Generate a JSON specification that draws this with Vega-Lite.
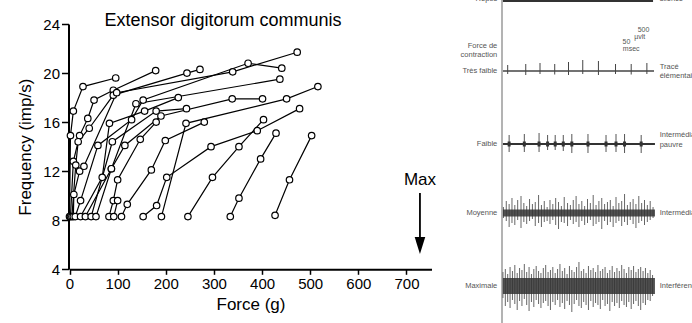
{
"$schema": "https://vega.github.io/schema/vega-lite/v6.json",
"width": 692, "height": 323,
"autosize": {"type": "none"},
"padding": 0,
"background": "white",
"config": {"view": {"stroke": null}, "font": "Liberation Sans", "axis": {"grid": false}},
"datasets": {
"units": [
{"u":"L1","f":0,"hz":8.3},{"u":"L1","f":2,"hz":14.9},{"u":"L1","f":8,"hz":16.9},{"u":"L1","f":28,"hz":18.9},{"u":"L1","f":96,"hz":19.6},
{"u":"L2","f":2,"hz":8.3},{"u":"L2","f":8,"hz":12.8},{"u":"L2","f":21,"hz":14.9},{"u":"L2","f":38,"hz":16.3},{"u":"L2","f":51,"hz":17.8},{"u":"L2","f":91,"hz":18.6},{"u":"L2","f":179,"hz":20.2},
{"u":"L3","f":5,"hz":8.3},{"u":"L3","f":13,"hz":12.5},{"u":"L3","f":18,"hz":14.4},{"u":"L3","f":41,"hz":15.5},{"u":"L3","f":91,"hz":18.2},{"u":"L3","f":244,"hz":20.0},{"u":"L3","f":271,"hz":20.3},
{"u":"L4","f":8,"hz":8.3},{"u":"L4","f":9,"hz":10.1},{"u":"L4","f":21,"hz":12.0},{"u":"L4","f":30,"hz":12.4},{"u":"L4","f":98,"hz":18.4},{"u":"L4","f":339,"hz":20.1},{"u":"L4","f":473,"hz":21.7},
{"u":"L5","f":12,"hz":8.3},{"u":"L5","f":23,"hz":9.6},{"u":"L5","f":59,"hz":14.1},{"u":"L5","f":129,"hz":16.2},{"u":"L5","f":153,"hz":17.8},{"u":"L5","f":371,"hz":20.8},{"u":"L5","f":441,"hz":20.4},
{"u":"L6","f":23,"hz":8.3},{"u":"L6","f":68,"hz":11.5},{"u":"L6","f":83,"hz":15.9},{"u":"L6","f":156,"hz":16.9},{"u":"L6","f":226,"hz":18.0},
{"u":"L7","f":33,"hz":8.3},{"u":"L7","f":87,"hz":12.2},{"u":"L7","f":138,"hz":17.5},{"u":"L7","f":437,"hz":19.5},
{"u":"L8","f":45,"hz":8.3},{"u":"L8","f":89,"hz":14.4},{"u":"L8","f":180,"hz":16.9},{"u":"L8","f":243,"hz":17.1},
{"u":"L9","f":55,"hz":8.3},{"u":"L9","f":87,"hz":12.2},{"u":"L9","f":115,"hz":14.1},{"u":"L9","f":190,"hz":16.5},{"u":"L9","f":338,"hz":17.9},{"u":"L9","f":401,"hz":17.9},
{"u":"L10","f":82,"hz":8.3},{"u":"L10","f":91,"hz":9.6},{"u":"L10","f":100,"hz":11.3},{"u":"L10","f":147,"hz":14.6},{"u":"L10","f":180,"hz":16.0},
{"u":"L17","f":92,"hz":8.3},{"u":"L17","f":100,"hz":9.6},
{"u":"L11","f":108,"hz":8.3},{"u":"L11","f":120,"hz":9.3},{"u":"L11","f":170,"hz":12.1},{"u":"L11","f":199,"hz":14.5},{"u":"L11","f":280,"hz":16.0},
{"u":"L12","f":153,"hz":8.3},{"u":"L12","f":181,"hz":9.2},{"u":"L12","f":202,"hz":11.5},{"u":"L12","f":294,"hz":14.0},{"u":"L12","f":390,"hz":15.3},{"u":"L12","f":478,"hz":17.1},
{"u":"L13","f":191,"hz":8.3},{"u":"L13","f":242,"hz":15.9},{"u":"L13","f":451,"hz":17.9},{"u":"L13","f":516,"hz":18.9},
{"u":"L14","f":246,"hz":8.3},{"u":"L14","f":297,"hz":11.5},{"u":"L14","f":352,"hz":14.0},{"u":"L14","f":403,"hz":16.2},
{"u":"L15","f":334,"hz":8.3},{"u":"L15","f":352,"hz":9.8},{"u":"L15","f":397,"hz":13.0},{"u":"L15","f":429,"hz":15.1},
{"u":"L16","f":427,"hz":8.4},{"u":"L16","f":457,"hz":11.3},{"u":"L16","f":503,"hz":14.9}
],
"emg": [
{"tr":"tf","t":12,"lo":-60,"hi":120},{"tr":"tf","t":50,"lo":-80,"hi":140},{"tr":"tf","t":80,"lo":-60,"hi":160},{"tr":"tf","t":111,"lo":-70,"hi":140},{"tr":"tf","t":140,"lo":-80,"hi":180},{"tr":"tf","t":170,"lo":-60,"hi":220},{"tr":"tf","t":203,"lo":-80,"hi":200},{"tr":"tf","t":239,"lo":-60,"hi":140},{"tr":"tf","t":272,"lo":-70,"hi":140},{"tr":"tf","t":305,"lo":-60,"hi":160},
{"tr":"fa","t":15,"lo":-160,"hi":180},{"tr":"fa","t":47,"lo":-160,"hi":200},{"tr":"fa","t":78,"lo":-160,"hi":220},{"tr":"fa","t":96,"lo":-120,"hi":180},{"tr":"fa","t":112,"lo":-120,"hi":180},{"tr":"fa","t":129,"lo":-140,"hi":180},{"tr":"fa","t":147,"lo":-180,"hi":200},{"tr":"fa","t":181,"lo":-180,"hi":200},{"tr":"fa","t":219,"lo":-160,"hi":180},{"tr":"fa","t":240,"lo":-160,"hi":200},{"tr":"fa","t":258,"lo":-180,"hi":200},{"tr":"fa","t":293,"lo":-180,"hi":180},
{"tr":"mo","t":3,"lo":-100,"hi":120},{"tr":"mo","t":9,"lo":-160,"hi":240},{"tr":"mo","t":15,"lo":-280,"hi":180},{"tr":"mo","t":21,"lo":-200,"hi":300},{"tr":"mo","t":27,"lo":-240,"hi":160},{"tr":"mo","t":33,"lo":-140,"hi":260},{"tr":"mo","t":40,"lo":-300,"hi":340},{"tr":"mo","t":46,"lo":-180,"hi":200},{"tr":"mo","t":52,"lo":-220,"hi":140},{"tr":"mo","t":58,"lo":-160,"hi":280},{"tr":"mo","t":64,"lo":-120,"hi":180},{"tr":"mo","t":70,"lo":-260,"hi":220},{"tr":"mo","t":77,"lo":-200,"hi":360},{"tr":"mo","t":83,"lo":-280,"hi":160},{"tr":"mo","t":89,"lo":-180,"hi":240},{"tr":"mo","t":95,"lo":-160,"hi":120},{"tr":"mo","t":101,"lo":-220,"hi":260},{"tr":"mo","t":107,"lo":-140,"hi":180},{"tr":"mo","t":113,"lo":-240,"hi":300},{"tr":"mo","t":119,"lo":-320,"hi":220},{"tr":"mo","t":125,"lo":-180,"hi":140},{"tr":"mo","t":131,"lo":-200,"hi":320},{"tr":"mo","t":138,"lo":-260,"hi":200},{"tr":"mo","t":144,"lo":-140,"hi":160},{"tr":"mo","t":150,"lo":-220,"hi":260},{"tr":"mo","t":156,"lo":-180,"hi":340},{"tr":"mo","t":162,"lo":-280,"hi":180},{"tr":"mo","t":168,"lo":-160,"hi":240},{"tr":"mo","t":174,"lo":-240,"hi":140},{"tr":"mo","t":180,"lo":-200,"hi":280},{"tr":"mo","t":186,"lo":-140,"hi":200},{"tr":"mo","t":192,"lo":-260,"hi":360},{"tr":"mo","t":198,"lo":-220,"hi":160},{"tr":"mo","t":204,"lo":-180,"hi":240},{"tr":"mo","t":210,"lo":-320,"hi":300},{"tr":"mo","t":216,"lo":-160,"hi":180},{"tr":"mo","t":222,"lo":-240,"hi":220},{"tr":"mo","t":228,"lo":-180,"hi":260},{"tr":"mo","t":234,"lo":-280,"hi":140},{"tr":"mo","t":240,"lo":-200,"hi":320},{"tr":"mo","t":246,"lo":-160,"hi":200},{"tr":"mo","t":252,"lo":-260,"hi":240},{"tr":"mo","t":258,"lo":-180,"hi":380},{"tr":"mo","t":264,"lo":-240,"hi":160},{"tr":"mo","t":270,"lo":-140,"hi":220},{"tr":"mo","t":276,"lo":-220,"hi":280},{"tr":"mo","t":282,"lo":-300,"hi":180},{"tr":"mo","t":288,"lo":-200,"hi":340},{"tr":"mo","t":294,"lo":-160,"hi":200},{"tr":"mo","t":300,"lo":-240,"hi":260},{"tr":"mo","t":306,"lo":-180,"hi":160},{"tr":"mo","t":312,"lo":-140,"hi":240},{"tr":"mo","t":318,"lo":-100,"hi":120},
{"tr":"ma","t":2,"lo":-240,"hi":280},{"tr":"ma","t":7,"lo":-400,"hi":340},{"tr":"ma","t":12,"lo":-320,"hi":240},{"tr":"ma","t":17,"lo":-440,"hi":380},{"tr":"ma","t":22,"lo":-280,"hi":300},{"tr":"ma","t":27,"lo":-360,"hi":420},{"tr":"ma","t":32,"lo":-480,"hi":260},{"tr":"ma","t":37,"lo":-300,"hi":360},{"tr":"ma","t":42,"lo":-400,"hi":320},{"tr":"ma","t":47,"lo":-260,"hi":440},{"tr":"ma","t":52,"lo":-380,"hi":280},{"tr":"ma","t":57,"lo":-500,"hi":380},{"tr":"ma","t":62,"lo":-320,"hi":240},{"tr":"ma","t":67,"lo":-420,"hi":340},{"tr":"ma","t":72,"lo":-280,"hi":400},{"tr":"ma","t":77,"lo":-360,"hi":300},{"tr":"ma","t":82,"lo":-440,"hi":260},{"tr":"ma","t":87,"lo":-340,"hi":360},{"tr":"ma","t":92,"lo":-300,"hi":420},{"tr":"ma","t":97,"lo":-400,"hi":280},{"tr":"ma","t":102,"lo":-480,"hi":320},{"tr":"ma","t":107,"lo":-320,"hi":380},{"tr":"ma","t":112,"lo":-380,"hi":260},{"tr":"ma","t":117,"lo":-280,"hi":340},{"tr":"ma","t":122,"lo":-420,"hi":440},{"tr":"ma","t":127,"lo":-340,"hi":300},{"tr":"ma","t":132,"lo":-460,"hi":360},{"tr":"ma","t":137,"lo":-300,"hi":240},{"tr":"ma","t":142,"lo":-380,"hi":400},{"tr":"ma","t":147,"lo":-520,"hi":320},{"tr":"ma","t":152,"lo":-360,"hi":280},{"tr":"ma","t":157,"lo":-280,"hi":380},{"tr":"ma","t":162,"lo":-400,"hi":480},{"tr":"ma","t":167,"lo":-440,"hi":300},{"tr":"ma","t":172,"lo":-320,"hi":340},{"tr":"ma","t":177,"lo":-380,"hi":260},{"tr":"ma","t":182,"lo":-480,"hi":400},{"tr":"ma","t":187,"lo":-300,"hi":320},{"tr":"ma","t":192,"lo":-420,"hi":360},{"tr":"ma","t":197,"lo":-340,"hi":280},{"tr":"ma","t":202,"lo":-380,"hi":420},{"tr":"ma","t":207,"lo":-460,"hi":300},{"tr":"ma","t":212,"lo":-280,"hi":340},{"tr":"ma","t":217,"lo":-400,"hi":380},{"tr":"ma","t":222,"lo":-360,"hi":260},{"tr":"ma","t":227,"lo":-500,"hi":320},{"tr":"ma","t":232,"lo":-320,"hi":400},{"tr":"ma","t":237,"lo":-400,"hi":280},{"tr":"ma","t":242,"lo":-340,"hi":360},{"tr":"ma","t":247,"lo":-440,"hi":300},{"tr":"ma","t":252,"lo":-300,"hi":420},{"tr":"ma","t":257,"lo":-380,"hi":340},{"tr":"ma","t":262,"lo":-420,"hi":260},{"tr":"ma","t":267,"lo":-320,"hi":380},{"tr":"ma","t":272,"lo":-460,"hi":320},{"tr":"ma","t":277,"lo":-360,"hi":400},{"tr":"ma","t":282,"lo":-300,"hi":280},{"tr":"ma","t":287,"lo":-400,"hi":340},{"tr":"ma","t":292,"lo":-480,"hi":380},{"tr":"ma","t":297,"lo":-340,"hi":300},{"tr":"ma","t":302,"lo":-380,"hi":360},{"tr":"ma","t":307,"lo":-280,"hi":260},{"tr":"ma","t":312,"lo":-300,"hi":320},{"tr":"ma","t":317,"lo":-200,"hi":220}
]
},
"layer": [
{
"layer": [
{"data": {"name": "units"},
 "mark": {"type": "line", "color": "black", "strokeWidth": 1.2},
 "encoding": {
  "x": {"field": "f", "type": "quantitative", "scale": {"domain": [0, 752], "range": [69.5, 431.5], "nice": false, "zero": false},
        "axis": {"offset": -53.7, "values": [0,100,200,300,400,500,600,700], "title": "Force (g)", "titleFontSize": 17, "titleFontWeight": "normal", "titleColor": "black", "titleFont": "Liberation Sans", "labelFontSize": 15, "labelColor": "black", "labelFont": "Liberation Sans", "domainColor": "black", "domainWidth": 2, "tickColor": "black", "tickWidth": 1.5, "tickSize": 5, "labelPadding": 2, "titlePadding": 5, "labelFlush": false, "grid": false}},
  "y": {"field": "hz", "type": "quantitative", "scale": {"domain": [4, 24], "range": [269.3, 24], "nice": false, "zero": false},
        "axis": {"offset": -68.5, "values": [4,8,12,16,20,24], "title": "Frequency (imp/s)", "titleFontSize": 17, "titleFontWeight": "normal", "titleColor": "black", "titleFont": "Liberation Sans", "labelFontSize": 15, "labelColor": "black", "labelFont": "Liberation Sans", "domainColor": "black", "domainWidth": 2, "tickColor": "black", "tickWidth": 1.5, "tickSize": 7, "labelPadding": 2, "titlePadding": 8, "labelFlush": false, "grid": false}},
  "detail": {"field": "u", "type": "nominal"}
 }},
{"data": {"name": "units"},
 "mark": {"type": "point", "shape": "circle", "filled": true, "fill": "white", "stroke": "black", "strokeWidth": 1.2, "size": 42, "opacity": 1},
 "encoding": {"x": {"field": "f", "type": "quantitative"}, "y": {"field": "hz", "type": "quantitative"}}},
{"data": {"values": [{}]},
 "mark": {"type": "text", "text": "Extensor   digitorum   communis", "fontSize": 18, "font": "Liberation Sans", "color": "black", "align": "center", "baseline": "middle"},
 "encoding": {"x": {"datum": 319, "type": "quantitative"}, "y": {"datum": 24.24, "type": "quantitative"}}},
{"data": {"values": [{}]},
 "mark": {"type": "text", "text": "Max", "fontSize": 17, "font": "Liberation Sans", "color": "black", "align": "center", "baseline": "middle"},
 "encoding": {"x": {"datum": 728, "type": "quantitative"}, "y": {"datum": 11.28, "type": "quantitative"}}},
{"data": {"values": [{}]},
 "mark": {"type": "rule", "color": "black", "strokeWidth": 1.8},
 "encoding": {"x": {"datum": 728, "type": "quantitative"}, "y": {"datum": 10.22, "type": "quantitative"}, "y2": {"datum": 6.4}}},
{"data": {"values": [{}]},
 "mark": {"type": "point", "shape": "M-0.62,-1L0.62,-1L0,1Z", "filled": true, "color": "black", "size": 290, "opacity": 1},
 "encoding": {"x": {"datum": 728, "type": "quantitative"}, "y": {"datum": 5.94, "type": "quantitative"}}}
]
},
{
"data": {"values": [{}]},
"layer": [
{"mark": {"type": "rule", "color": "#9a9a9a", "strokeWidth": 1.5},
 "encoding": {"x": {"datum": 0, "type": "quantitative", "scale": {"domain": [0, 400], "range": [502, 692], "nice": false, "zero": false}, "axis": null},
              "y": {"datum": 20, "type": "quantitative", "scale": {"domain": [-1000, 1000], "range": [51, -49], "nice": false, "zero": false}, "axis": null},
              "y2": {"datum": -6460}}},
{"mark": {"type": "rule", "color": "#333", "strokeWidth": 2},
 "encoding": {"x": {"datum": 2, "type": "quantitative", "axis": null}, "x2": {"datum": 318}, "y": {"datum": 0, "type": "quantitative", "axis": null}}},
{"mark": {"type": "text", "text": "Repos", "fontSize": 7.5, "fill": "#555", "align": "right", "baseline": "middle"},
 "encoding": {"x": {"datum": -10, "type": "quantitative", "axis": null}, "y": {"datum": 40, "type": "quantitative", "axis": null}}},
{"mark": {"type": "text", "text": "silence", "fontSize": 7.5, "fill": "#555", "align": "left", "baseline": "middle"},
 "encoding": {"x": {"datum": 332, "type": "quantitative", "axis": null}, "y": {"datum": 40, "type": "quantitative", "axis": null}}}
]
},
{
"layer": [
{"data": {"name": "emg"}, "transform": [{"filter": "datum.tr === 'tf'"}],
 "mark": {"type": "rule", "color": "#444", "strokeWidth": 1},
 "encoding": {"x": {"field": "t", "type": "quantitative", "scale": {"domain": [0, 400], "range": [502, 692], "nice": false, "zero": false}, "axis": null},
              "y": {"field": "lo", "type": "quantitative", "scale": {"domain": [-1000, 1000], "range": [121, 21], "nice": false, "zero": false}, "axis": null},
              "y2": {"field": "hi"}}},
{"data": {"values": [{}]}, "mark": {"type": "rule", "color": "#444", "strokeWidth": 1.5},
 "encoding": {"x": {"datum": 2, "type": "quantitative", "axis": null}, "x2": {"datum": 320}, "y": {"datum": 0, "type": "quantitative", "axis": null}}},
{"data": {"values": [{}]}, "mark": {"type": "text", "text": "Force de", "fontSize": 7.5, "fill": "#555", "align": "right", "baseline": "middle"},
 "encoding": {"x": {"datum": -10, "type": "quantitative", "axis": null}, "y": {"datum": 500, "type": "quantitative", "axis": null}}},
{"data": {"values": [{}]}, "mark": {"type": "text", "text": "contraction", "fontSize": 7.5, "fill": "#555", "align": "right", "baseline": "middle"},
 "encoding": {"x": {"datum": -10, "type": "quantitative", "axis": null}, "y": {"datum": 330, "type": "quantitative", "axis": null}}},
{"data": {"values": [{}]}, "mark": {"type": "text", "text": "Très faible", "fontSize": 7.5, "fill": "#555", "align": "right", "baseline": "middle"},
 "encoding": {"x": {"datum": -10, "type": "quantitative", "axis": null}, "y": {"datum": 0, "type": "quantitative", "axis": null}}},
{"data": {"values": [{}]}, "mark": {"type": "text", "text": "Tracé", "fontSize": 7.5, "fill": "#555", "align": "left", "baseline": "middle"},
 "encoding": {"x": {"datum": 332, "type": "quantitative", "axis": null}, "y": {"datum": 80, "type": "quantitative", "axis": null}}},
{"data": {"values": [{}]}, "mark": {"type": "text", "text": "élémentaire", "fontSize": 7.5, "fill": "#555", "align": "left", "baseline": "middle"},
 "encoding": {"x": {"datum": 332, "type": "quantitative", "axis": null}, "y": {"datum": -90, "type": "quantitative", "axis": null}}},
{"data": {"values": [{}]}, "mark": {"type": "text", "text": "500", "fontSize": 7, "fill": "#555", "align": "center", "baseline": "middle"},
 "encoding": {"x": {"datum": 298, "type": "quantitative", "axis": null}, "y": {"datum": 820, "type": "quantitative", "axis": null}}},
{"data": {"values": [{}]}, "mark": {"type": "text", "text": "µvlt", "fontSize": 7, "fill": "#555", "align": "center", "baseline": "middle"},
 "encoding": {"x": {"datum": 290, "type": "quantitative", "axis": null}, "y": {"datum": 690, "type": "quantitative", "axis": null}}},
{"data": {"values": [{}]}, "mark": {"type": "text", "text": "50", "fontSize": 7, "fill": "#555", "align": "center", "baseline": "middle"},
 "encoding": {"x": {"datum": 262, "type": "quantitative", "axis": null}, "y": {"datum": 580, "type": "quantitative", "axis": null}}},
{"data": {"values": [{}]}, "mark": {"type": "text", "text": "msec", "fontSize": 7, "fill": "#555", "align": "center", "baseline": "middle"},
 "encoding": {"x": {"datum": 272, "type": "quantitative", "axis": null}, "y": {"datum": 450, "type": "quantitative", "axis": null}}}
]
},
{
"layer": [
{"data": {"name": "emg"}, "transform": [{"filter": "datum.tr === 'fa'"}],
 "mark": {"type": "rule", "color": "#555", "strokeWidth": 1},
 "encoding": {"x": {"field": "t", "type": "quantitative", "scale": {"domain": [0, 400], "range": [502, 692], "nice": false, "zero": false}, "axis": null},
              "y": {"field": "lo", "type": "quantitative", "scale": {"domain": [-1000, 1000], "range": [194, 94], "nice": false, "zero": false}, "axis": null},
              "y2": {"field": "hi"}}},
{"data": {"name": "emg"}, "transform": [{"filter": "datum.tr === 'fa'"}],
 "mark": {"type": "rule", "color": "#333", "strokeWidth": 3},
 "encoding": {"x": {"field": "t", "type": "quantitative", "axis": null}, "y": {"datum": -50, "type": "quantitative", "axis": null}, "y2": {"datum": 50}}},
{"data": {"values": [{}]}, "mark": {"type": "rule", "color": "#333", "strokeWidth": 1.8},
 "encoding": {"x": {"datum": 2, "type": "quantitative", "axis": null}, "x2": {"datum": 322}, "y": {"datum": 0, "type": "quantitative", "axis": null}}},
{"data": {"values": [{}]}, "mark": {"type": "text", "text": "Faible", "fontSize": 7.5, "fill": "#555", "align": "right", "baseline": "middle"},
 "encoding": {"x": {"datum": -10, "type": "quantitative", "axis": null}, "y": {"datum": 0, "type": "quantitative", "axis": null}}},
{"data": {"values": [{}]}, "mark": {"type": "text", "text": "Intermédiaire", "fontSize": 7.5, "fill": "#555", "align": "left", "baseline": "middle"},
 "encoding": {"x": {"datum": 332, "type": "quantitative", "axis": null}, "y": {"datum": 180, "type": "quantitative", "axis": null}}},
{"data": {"values": [{}]}, "mark": {"type": "text", "text": "pauvre", "fontSize": 7.5, "fill": "#555", "align": "left", "baseline": "middle"},
 "encoding": {"x": {"datum": 332, "type": "quantitative", "axis": null}, "y": {"datum": -10, "type": "quantitative", "axis": null}}}
]
},
{
"layer": [
{"data": {"name": "emg"}, "transform": [{"filter": "datum.tr === 'mo'"}],
 "mark": {"type": "rule", "color": "#666", "strokeWidth": 1},
 "encoding": {"x": {"field": "t", "type": "quantitative", "scale": {"domain": [0, 400], "range": [502, 692], "nice": false, "zero": false}, "axis": null},
              "y": {"field": "lo", "type": "quantitative", "scale": {"domain": [-1000, 1000], "range": [263, 163], "nice": false, "zero": false}, "axis": null},
              "y2": {"field": "hi"}}},
{"data": {"values": [{}]}, "mark": {"type": "rect", "color": "#333", "opacity": 0.85},
 "encoding": {"x": {"datum": 2, "type": "quantitative", "axis": null}, "x2": {"datum": 322}, "y": {"datum": -70, "type": "quantitative", "axis": null}, "y2": {"datum": 70}}},
{"data": {"values": [{}]}, "mark": {"type": "text", "text": "Moyenne", "fontSize": 7.5, "fill": "#555", "align": "right", "baseline": "middle"},
 "encoding": {"x": {"datum": -10, "type": "quantitative", "axis": null}, "y": {"datum": 0, "type": "quantitative", "axis": null}}},
{"data": {"values": [{}]}, "mark": {"type": "text", "text": "Intermédiaire", "fontSize": 7.5, "fill": "#555", "align": "left", "baseline": "middle"},
 "encoding": {"x": {"datum": 332, "type": "quantitative", "axis": null}, "y": {"datum": 0, "type": "quantitative", "axis": null}}}
]
},
{
"layer": [
{"data": {"name": "emg"}, "transform": [{"filter": "datum.tr === 'ma'"}],
 "mark": {"type": "rule", "color": "#666", "strokeWidth": 1},
 "encoding": {"x": {"field": "t", "type": "quantitative", "scale": {"domain": [0, 400], "range": [502, 692], "nice": false, "zero": false}, "axis": null},
              "y": {"field": "lo", "type": "quantitative", "scale": {"domain": [-1000, 1000], "range": [336, 236], "nice": false, "zero": false}, "axis": null},
              "y2": {"field": "hi"}}},
{"data": {"values": [{}]}, "mark": {"type": "rect", "color": "#333", "opacity": 0.85},
 "encoding": {"x": {"datum": 2, "type": "quantitative", "axis": null}, "x2": {"datum": 322}, "y": {"datum": -160, "type": "quantitative", "axis": null}, "y2": {"datum": 160}}},
{"data": {"values": [{}]}, "mark": {"type": "text", "text": "Maximale", "fontSize": 7.5, "fill": "#555", "align": "right", "baseline": "middle"},
 "encoding": {"x": {"datum": -10, "type": "quantitative", "axis": null}, "y": {"datum": 0, "type": "quantitative", "axis": null}}},
{"data": {"values": [{}]}, "mark": {"type": "text", "text": "Interférence", "fontSize": 7.5, "fill": "#555", "align": "left", "baseline": "middle"},
 "encoding": {"x": {"datum": 332, "type": "quantitative", "axis": null}, "y": {"datum": 0, "type": "quantitative", "axis": null}}}
]
}
],
"resolve": {"scale": {"x": "independent", "y": "independent"}}
}
